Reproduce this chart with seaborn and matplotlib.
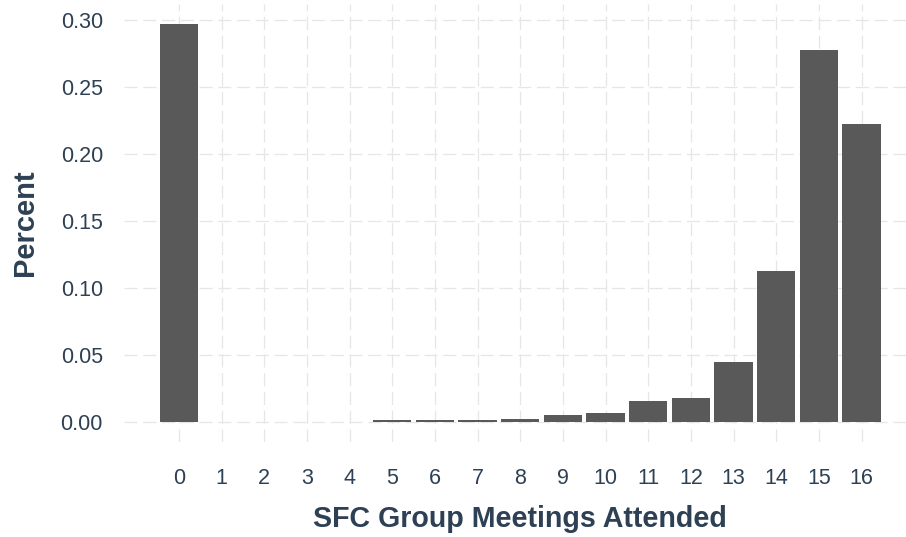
import numpy as np
import matplotlib
matplotlib.use("Agg")
import matplotlib.pyplot as plt
import pandas as pd
import seaborn as sns

meetings = list(range(17))
percent = [0.2965, 0.0, 0.0, 0.0, 0.0, 0.001, 0.001, 0.001, 0.002, 0.005,
           0.0063, 0.0155, 0.0176, 0.0445, 0.1125, 0.2772, 0.2222]

df = pd.DataFrame({"meetings": meetings, "percent": percent})

sns.set_theme(style="white")
plt.rcParams['font.family'] = ['Liberation Sans', 'DejaVu Sans']
text_col = "#2E4053"

fig = plt.figure(figsize=(9.06, 5.37), dpi=100)
ax = fig.add_axes([123.5 / 906, 0.1778, (917 - 123.5) / 906, 0.8144])

sns.barplot(data=df, x="meetings", y="percent", color="#595959", saturation=1,
            width=0.9, linewidth=0, ax=ax, zorder=3)

ax.set_xlim(-1.3, 17.3)
ax.set_ylim(-0.0148, 0.3116)
ax.set_yticks([0, 0.05, 0.10, 0.15, 0.20, 0.25, 0.30])
ax.set_yticklabels(["0.00", "0.05", "0.10", "0.15", "0.20", "0.25", "0.30"])
ax.set_xticks(meetings)
ax.set_xticklabels([str(m) for m in meetings])

# dashed light grid like the ggplot original
ax.grid(True, color="#E6E6E6", linewidth=0.9, linestyle=(0, (10.5, 4.5)), zorder=0)
ax.set_axisbelow(True)
for s in ax.spines.values():
    s.set_visible(False)
ax.tick_params(length=0, labelsize=15.5, labelcolor=text_col)
ax.tick_params(axis="y", pad=14.8)
ax.tick_params(axis="x", pad=19)

ax.set_xlabel("SFC Group Meetings Attended", fontsize=20.6, fontweight="bold",
              color=text_col, labelpad=11.5)
ax.set_ylabel("Percent", fontsize=21, fontweight="bold", color=text_col, labelpad=15.5)

fig.savefig("out.png", dpi=100)
